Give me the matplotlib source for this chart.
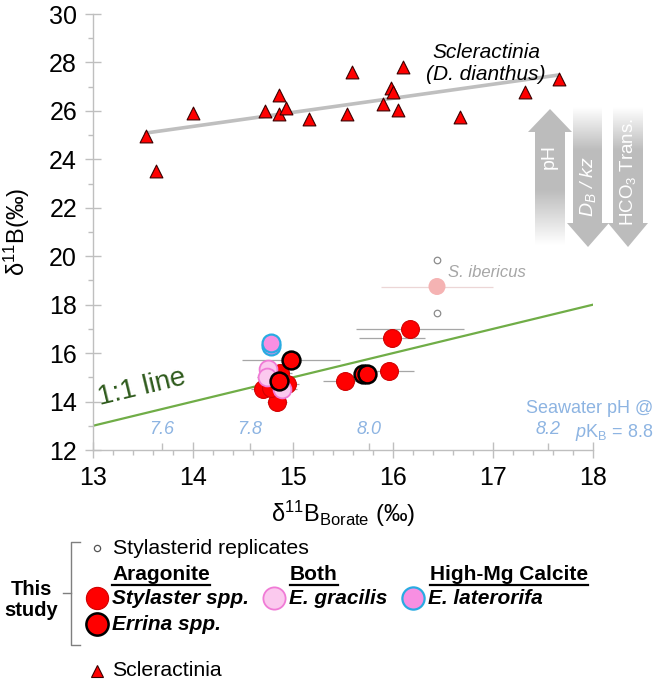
#!/usr/bin/env python3
"""
Stylasterid and scleractinian coral d11B vs. d11B of seawater borate.
"""

import numpy as np
import matplotlib
matplotlib.use("Agg")
import matplotlib.pyplot as plt
from matplotlib.ticker import MultipleLocator
from matplotlib.patches import Polygon

plt.rcParams['font.family'] = ['Liberation Sans', 'DejaVu Sans']
plt.rcParams['mathtext.fontset'] = 'custom'
plt.rcParams['mathtext.rm'] = 'Liberation Sans'
plt.rcParams['mathtext.it'] = 'Liberation Sans:italic'
plt.rcParams['mathtext.bf'] = 'Liberation Sans:bold'

# ---- data ----
# Scleractinia (D. dianthus)
sclerac_x = [13.53, 13.63, 14.00, 14.72, 14.86, 14.86, 14.93, 15.16, 15.59,
             15.54, 15.90, 15.98, 16.00, 16.05, 16.10, 16.67, 17.32, 17.66]
sclerac_y = [24.97, 23.52, 25.90, 25.99, 26.65, 25.86, 26.13, 25.65, 27.60,
             25.86, 26.27, 26.95, 26.79, 26.02, 27.83, 25.76, 26.77, 27.33]

# Stylaster spp. (aragonite)
stylaster_x = [14.70, 14.84, 14.87, 14.94, 14.78, 15.52, 15.96, 15.99, 16.17]
stylaster_y = [14.50, 13.99, 15.17, 14.74, 14.55, 14.85, 15.25, 16.64, 17.00]
stylaster_xerr = [0.12, 0.10, 0.12, 0.12, 0.10, 0.22, 0.25, 0.33, 0.54]
stylaster_yerr = [0.0, 0.0, 0.0, 0.0, 0.0, 0.0, 0.0, 0.25, 0.0]

# Errina spp. (aragonite)
errina_x = [14.98, 14.86, 15.70, 15.74]
errina_y = [15.73, 14.85, 15.13, 15.13]
errina_xerr = [0.49, 0.0, 0.0, 0.0]

# E. gracilis (both)
gracilis_x = [14.75, 14.74, 14.89]
gracilis_y = [15.36, 15.02, 14.50]
gracilis_xerr = [0.0, 0.10, 0.15]

# E. laterorifa (high-Mg calcite)
laterorifa_x = [14.78, 14.78]
laterorifa_y = [16.30, 16.40]

# S. ibericus (mean + replicates)
ibericus_x = [16.44]
ibericus_y = [18.75]
ibericus_xerr = [0.56]
ibericus_rep_y = [19.85, 17.65]

# 1:1 line
one_to_one = [13, 18]

# seawater pH scale (borate d11B at pH, pKB = 8.8)
ph_labels = ['7.6', '7.8', '8.0', '8.2']
ph_borate = [13.69, 14.57, 15.76, 17.55]

GRAY = '#bfbfbf'
BLUE = '#8db4e2'
RED = '#ff0000'

fig = plt.figure(figsize=(6.57, 6.85), dpi=100)
W, H = 657, 685
ax = fig.add_axes([93 / W, 1 - 450 / H, 500 / W, 436 / H])

# regression through scleractinians
coef = np.polyfit(sclerac_x, sclerac_y, 1)
fx = np.array([min(sclerac_x), max(sclerac_x)])
ax.plot(fx, np.polyval(coef, fx), color=GRAY, lw=2.6, zorder=2,
        solid_capstyle='round')

ax.plot(one_to_one, one_to_one, color='#70ad47', lw=1.6, zorder=2)

ax.scatter(sclerac_x, sclerac_y, marker='^', s=85, c=RED,
           edgecolors='#3a0000', linewidths=0.8, zorder=4)

# S. ibericus (faded)
ax.errorbar(ibericus_x, ibericus_y, xerr=ibericus_xerr, fmt='none',
            ecolor='#ecd6d6', elinewidth=0.9, capsize=0, zorder=2)
ax.scatter(ibericus_x, ibericus_y, s=150, c='#f5b3b3', edgecolors='none',
           zorder=3)
ax.scatter([ibericus_x[0]] * len(ibericus_rep_y), ibericus_rep_y, s=22,
           facecolors='white', edgecolors='#8c8c8c', linewidths=0.9, zorder=3)

# error bars
ax.errorbar(stylaster_x, stylaster_y, xerr=stylaster_xerr,
            yerr=stylaster_yerr, fmt='none', ecolor='#a6a6a6',
            elinewidth=0.9, capsize=0, zorder=2)
ax.errorbar(errina_x, errina_y, xerr=errina_xerr, fmt='none',
            ecolor='#a6a6a6', elinewidth=0.9, capsize=0, zorder=2)
ax.errorbar(gracilis_x, gracilis_y, xerr=gracilis_xerr, fmt='none',
            ecolor='#a6a6a6', elinewidth=0.9, capsize=0, zorder=2)

ax.scatter(stylaster_x, stylaster_y, s=165, c=RED, edgecolors='#d00000',
           linewidths=0.8, zorder=5)
ax.scatter(gracilis_x, gracilis_y, s=165, c='#fbc9ee', edgecolors='#f07bd6',
           linewidths=1.3, zorder=6)
ax.scatter(errina_x, errina_y, s=165, c=RED, edgecolors='black',
           linewidths=1.8, zorder=7)
ax.scatter(laterorifa_x, laterorifa_y, s=165, c='#f78fe2',
           edgecolors='#29abe2', linewidths=1.6, zorder=6)

# axes styling
ax.set_xlim(13, 18)
ax.set_ylim(12, 30)
ax.set_xticks(range(13, 19))
ax.set_yticks(range(12, 31, 2))
ax.xaxis.set_minor_locator(MultipleLocator(0.2))
ax.yaxis.set_minor_locator(MultipleLocator(1))
for s in ['top', 'right']:
    ax.spines[s].set_visible(False)
for s in ['left', 'bottom']:
    ax.spines[s].set_color(GRAY)
    ax.spines[s].set_linewidth(1.0)
ax.tick_params(which='major', direction='inout', length=11, width=1,
               color=GRAY, labelsize=18, pad=6)
ax.tick_params(which='minor', direction='out', length=3.6, width=1,
               color=GRAY)
ax.set_xlabel(r'δ$^{11}$B$_{\mathrm{Borate}}$ (‰)', fontsize=17, labelpad=6)
ax.set_ylabel(r'δ$^{11}$B(‰)', fontsize=17)
ax.yaxis.set_label_coords(-0.122, 0.5)

# seawater pH scale along the bottom
sec = ax.secondary_xaxis(0)
sec.set_xticks(ph_borate, labels=ph_labels)
sec.spines['bottom'].set_visible(False)
sec.tick_params(direction='in', length=5, width=1, color=GRAY,
                labelcolor=BLUE, labelsize=13, pad=-21)
for lbl in sec.get_xticklabels():
    lbl.set_fontstyle('italic')

# annotations in the plot
ax.text(16.93, 27.96, 'Scleractinia\n(D. dianthus)', fontsize=15,
        style='italic', ha='center', va='center', linespacing=1.15)
ax.text(16.55, 19.33, 'S. ibericus', fontsize=12, style='italic',
        color='#a6a6a6', ha='left', va='center')
ax.text(13.07, 13.85, '1:1 line', fontsize=20, color='#2e5a1c',
        rotation=45, transform_rotates_text=True, rotation_mode='anchor',
        ha='left', va='baseline')

# overlay in pixel coordinates for arrows and the key
lax = fig.add_axes([0, 0, 1, 1], zorder=3)
lax.set_xlim(0, W)
lax.set_ylim(H, 0)
lax.axis('off')


def shaded_arrow(xs0, xs1, xh0, xh1, y_tail, y_base, y_tip, fade):
    """Block arrow (pixel coords) filled with a gray that fades out."""
    xc = (xh0 + xh1) / 2
    pts = [(xs0, y_tail), (xs1, y_tail), (xs1, y_base), (xh1, y_base),
           (xc, y_tip), (xh0, y_base), (xs0, y_base)]
    poly = Polygon(pts, closed=True, facecolor='none', edgecolor='none')
    lax.add_patch(poly)
    ytop, ybot = min(y_tail, y_tip), max(y_tail, y_tip)
    yy = np.linspace(ytop, ybot, 200)
    a0, a1 = fade
    alpha = np.clip((yy - a0) / (a1 - a0), 0, 1)
    img = np.ones((200, 2, 4))
    img[..., :3] = 0.74
    img[..., 3] = alpha[:, None]
    im = lax.imshow(img, extent=(xh0, xh1, ybot, ytop), origin='upper',
                    aspect='auto', interpolation='bilinear')
    im.set_clip_path(poly)


shaded_arrow(535, 565, 528, 572, 245, 132, 109, fade=(245, 190))
shaded_arrow(573, 602, 567, 609, 107, 223, 247, fade=(107, 150))
shaded_arrow(613, 643, 608, 648, 107, 223, 247, fade=(107, 150))
lax.text(549, 156, 'pH', rotation=90, color='white', fontsize=14,
         ha='center', va='center')
lax.text(588, 186, r'$D_B$ / $kz$', rotation=90, color='white',
         fontsize=14, style='italic', ha='center', va='center')
lax.text(628, 172, r'HCO$_3$ Trans.', rotation=90, color='white',
         fontsize=13.5, ha='center', va='center')

lax.text(653, 408, 'Seawater pH @', color=BLUE, fontsize=13,
         ha='right', va='center')
lax.text(653, 432, r'$\it{p}$K$_\mathrm{B}$ = 8.8', color=BLUE,
         fontsize=13, ha='right', va='center')

# key
lax.plot([80, 71, 71, 80], [542, 542, 645, 645], color='#7f7f7f', lw=1)
lax.plot([71, 63], [593, 593], color='#7f7f7f', lw=1)
lax.text(31, 600, 'This\nstudy', fontsize=14.5, fontweight='bold',
         ha='center', va='center', linespacing=1.15)

lax.plot([97], [548], marker='o', ms=4.5, mfc='white', mec='#555555',
         mew=0.9)
lax.text(113, 548, 'Stylasterid replicates', fontsize=15.3, va='center')

heads = [('Aragonite', 112), ('Both', 290), ('High-Mg Calcite', 430)]
head_texts = []
for label, hx in heads:
    head_texts.append(lax.text(hx, 575, label, fontsize=15,
                               fontweight='bold', va='center'))

key_items = [
    (97, 598, RED, '#d00000', 0.8, 'Stylaster spp.'),
    (97, 624, RED, 'black', 1.8, 'Errina spp.'),
    (274, 598, '#fbc9ee', '#f07bd6', 1.3, 'E. gracilis'),
    (413, 598, '#f78fe2', '#29abe2', 1.6, 'E. laterorifa'),
]
for kx, ky, fc, ec, ew, label in key_items:
    lax.plot([kx], [ky], marker='o', ms=16, mfc=fc, mec=ec, mew=ew)
    lax.text(kx + 15, ky, label, fontsize=15, fontweight='bold',
             style='italic', va='center')

lax.plot([97], [671], marker='^', ms=8, mfc=RED, mec='#3a0000', mew=0.8)
lax.text(112, 671, 'Scleractinia', fontsize=15.3, va='center')

# underline the group headings
fig.canvas.draw()
renderer = fig.canvas.get_renderer()
inv = lax.transData.inverted()
for t in head_texts:
    bb = t.get_window_extent(renderer)
    (x0, _), (x1, _) = inv.transform([(bb.x0, bb.y0), (bb.x1, bb.y0)])
    lax.plot([x0, x1], [585, 585], color='black', lw=1.6)

lax.set_xlim(0, W)
lax.set_ylim(H, 0)

fig.savefig('out.png', dpi=100)
